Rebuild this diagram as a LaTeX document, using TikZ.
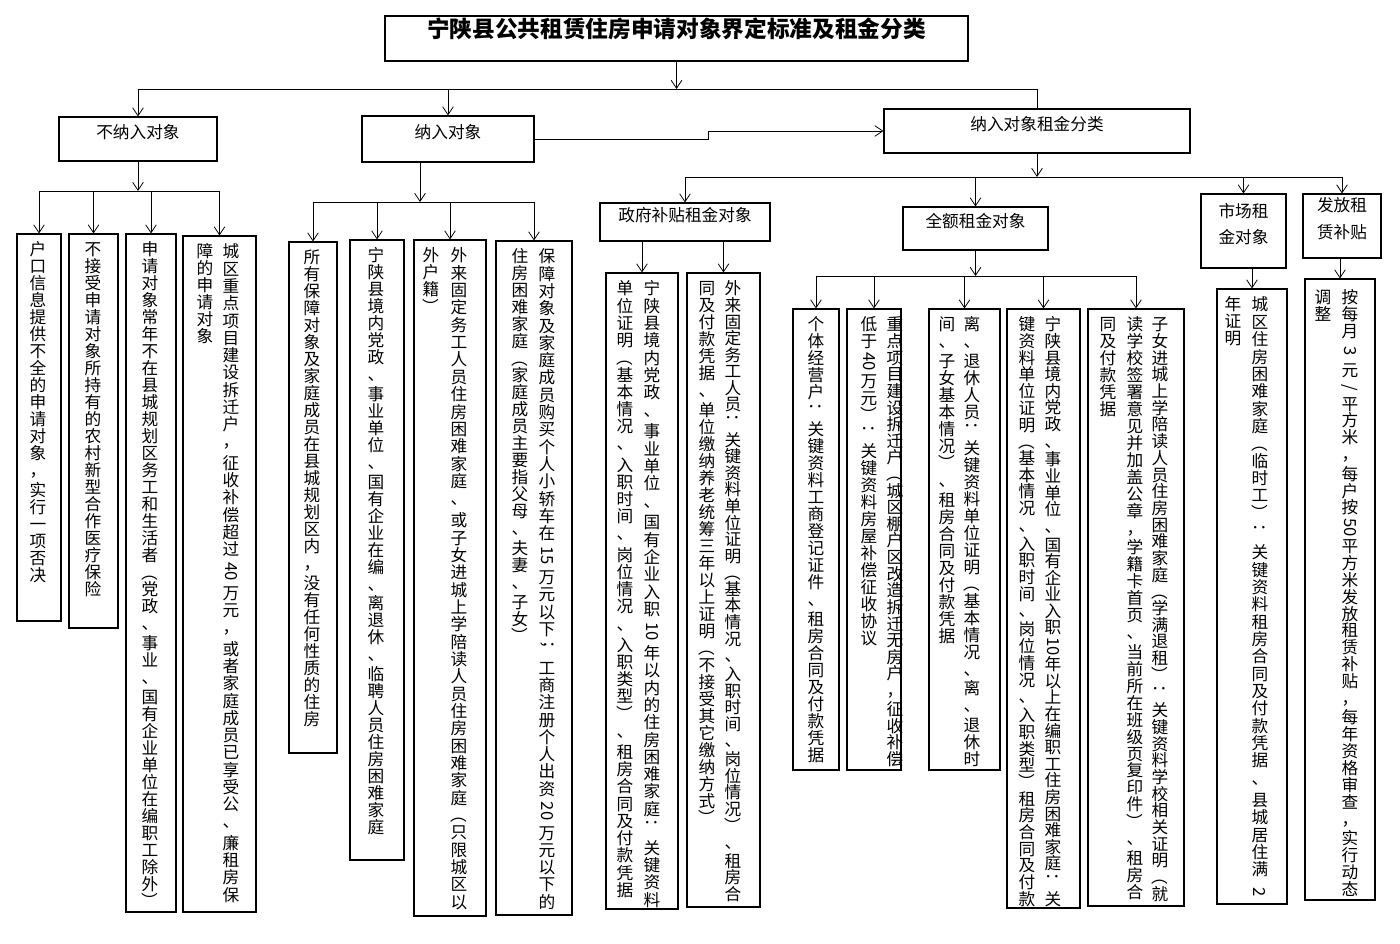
\documentclass[tikz,border=0pt]{standalone}
\usepackage{fontspec}
\setmainfont{Noto Sans CJK SC}
\usepackage{graphicx}
\usetikzlibrary{arrows.meta,fit,calc}

\newcommand\rt[1]{\rotatebox[origin=c]{-90}{#1}}
\newcommand\lp{\rt{（}}
\newcommand\rp{\rt{）}}
\makeatletter
\newskip\vcgapskip \vcgapskip=2pt plus 1fil minus 2pt
\newskip\vcsmallskip \vcsmallskip=0pt plus .15fil minus 1pt
\newif\ifvcgap
\def\vp@a{，}\def\vp@b{、}\def\vp@c{；}\def\vp@d{\rt{：}}\def\vp@e{\rt{；}}\def\vp@bar{|}
\def\vc@strut{\vrule width0pt height .88em depth .12em\relax}
\def\vc@body{%
  \ifx\vc@x\vp@bar \vskip\vcgapskip \else
    \hbox to 1em{\hss\vc@strut\vc@x\hss}%
    \vcgapfalse
    \ifx\vc@x\vp@a\vcgaptrue\fi
    \ifx\vc@x\vp@b\vcgaptrue\fi
    \ifx\vc@x\vp@c\vcgaptrue\fi
    \ifx\vc@x\vp@d\vcgaptrue\fi
    \ifx\vc@x\vp@e\vcgaptrue\fi
    \ifvcgap\vskip\vcgapskip\else\vskip\vcsmallskip\fi
  \fi}
\def\vc@setup{\fontsize{12.5pt}{12.75pt}\selectfont\baselineskip=12.75pt\lineskiplimit=-100pt\relax}
\newcommand\vcolN[1]{\vbox{\vc@setup\@tfor\vc@x:=#1\do{\vc@body}\unskip}}
\newcommand\vcolF[2]{\vbox to \dimexpr 0.75pt*#1\relax{\vc@setup\@tfor\vc@x:=#2\do{\vc@body}\unskip}}
\makeatother

\begin{document}
\begin{tikzpicture}[x=0.75pt,y=-0.75pt,
  bx/.style={draw=black, line width=0.8pt, inner sep=0pt, font=\fontsize{12.5pt}{15pt}\selectfont},
  col/.style={inner sep=0pt, anchor=north},
  ln/.style={line width=0.6pt},
  arr/.style={line width=0.6pt, -{Straight Barb[length=6pt,width=8pt]}}]
\useasboundingbox (0,0) rectangle (1400,944);

% title and level 1
\node[bx, fit={(385,16)(968,61)}] (t) {\fontsize{17pt}{20pt}\selectfont\bfseries 宁陕县公共租赁住房申请对象界定标准及租金分类};
\node[bx, fit={(59,117)(217,161)}] (n0) {不纳入对象};
\node[bx, fit={(362,116)(534,162)}] (n1) {纳入对象};
\node[bx, fit={(884,109)(1190,153)}] (n2) {纳入对象租金分类};

% level 2 boxes under rent classification
\node[bx, fit={(600,203)(770,241)}] (g) {政府补贴租金对象};
\node[bx, fit={(903,207)(1048,250)}] (f) {全额租金对象};
\node[bx, fit={(1201,194)(1286,268)}, align=center, font=\fontsize{12.5pt}{20pt}\selectfont] (m) {市场租\\金对象};
\node[bx, fit={(1303,194)(1381,258)}, align=center, font=\fontsize{12.5pt}{20pt}\selectfont] (s) {发放租\\赁补贴};

% leaf boxes
\node[bx, fit={(17,234)(61,621)}] (a1) {};
\node[bx, fit={(69,234)(118,628)}] (a2) {};
\node[bx, fit={(126,234)(176,912)}] (a3) {};
\node[bx, fit={(183,236)(256,912)}] (a4) {};
\node[bx, fit={(289,242)(337,753)}] (b1) {};
\node[bx, fit={(350,240)(404,860)}] (b2) {};
\node[bx, fit={(414,240)(486,916)}] (b3) {};
\node[bx, fit={(496,241)(572,915)}] (b4) {};
\node[bx, fit={(606,273)(678,909)}] (g1) {};
\node[bx, fit={(687,273)(760,907)}] (g2) {};
\node[bx, fit={(793,309)(839,770)}] (f1) {};
\node[bx, fit={(847,309)(901,770)}] (f2) {};
\node[bx, fit={(929,309)(1000,770)}] (f3) {};
\node[bx, fit={(1007,309)(1080,908)}] (f4) {};
\node[bx, fit={(1088,309)(1184,906)}] (f5) {};
\node[bx, fit={(1217,289)(1287,904)}] (m1) {};
\node[bx, fit={(1305,279)(1375,900)}] (s1) {};

% vertical texts
\node[col] (a1c) at (38,241) {\vcolN{户口信息提供不全的申请对象，实行一项否决}};
\node[col] (a2c) at (93,241) {\vcolN{不接受申请对象所持有的农村新型合作医疗保险}};
\node[col] (a3c) at (150,241) {\vcolN{申请对象常年不在县城规划区务工和生活者{\lp}党政、事业、国有企业单位在编职工除外{\rp}}};
\node[col] (a4r) at (231,243) {\vcolF{658}{城区重点项目建设拆迁户，征收补偿超过|{\rt{40}}|万元，或者家庭成员已享受公、廉租房保}};
\node[col] (a4l) at (205,243) {\vcolN{障的申请对象}};

\node[col] (b1c) at (312,249) {\vcolN{所有保障对象及家庭成员在县城规划区内，没有任何性质的住房}};
\node[col] (b2c) at (376,247) {\vcolN{宁陕县境内党政、事业单位、国有企业在编、离退休、临聘人员住房困难家庭}};
\node[col] (b3r) at (459,247) {\vcolF{661}{外来固定务工人员住房困难家庭、或子女进城上学陪读人员住房困难家庭{\lp}只限城区以}};
\node[col] (b3l) at (431,247) {\vcolN{外户籍{\rp}}};
\node[col] (b4r) at (547,248) {\vcolF{660}{保障对象及家庭成员购买个人小轿车在|{\rt{15}}|万元以下{\rt{；}}工商注册个人出资|{\rt{20}}|万元以下的}};
\node[col] (b4l) at (520,248) {\vcolN{住房困难家庭{\lp}家庭成员主要指父母、夫妻、子女{\rp}}};

\node[col] (g1r) at (652,280) {\vcolF{626}{宁陕县境内党政、事业单位、国有企业入职|{\rt{10}}|年以内的住房困难家庭{\rt{：}}关键资料}};
\node[col] (g1l) at (625,280) {\vcolF{616}{单位证明{\lp}基本情况、入职时间、岗位情况、入职类型{\rp}、租房合同及付款凭据}};
\node[col] (g2r) at (733,280) {\vcolF{620}{外来固定务工人员{\rt{：}}关键资料单位证明{\lp}基本情况、入职时间、岗位情况{\rp}、租房合}};
\node[col] (g2l) at (707,280) {\vcolN{同及付款凭据、单位缴纳养老统筹三年以上证明{\lp}不接受其它缴纳方式{\rp}}};

\node[col] (f1c) at (816,316) {\vcolN{个体经营户{\rt{：}}关键资料工商登记证件、租房合同及付款凭据}};
\node[col] (f2r) at (895,316) {\vcolF{449}{重点项目建设拆迁户{\lp}城区棚户区改造拆迁无房户，征收补偿}};
\node[col] (f2l) at (869,316) {\vcolN{低于|{\rt{40}}|万元{\rp}{\rt{：}}关键资料房屋补偿征收协议}};
\node[col] (f3r) at (972,316) {\vcolF{449}{离、退休人员{\rt{：}}关键资料单位证明{\lp}基本情况、离、退休时}};
\node[col] (f3l) at (947,316) {\vcolN{间、子女基本情况{\rp}、租房合同及付款凭据}};
\node[col] (f4r) at (1053,316) {\vcolF{589}{宁陕县境内党政、事业单位、国有企业入职|{\rt{10}}|年以上在编职工住房困难家庭{\rt{：}}关}};
\node[col] (f4l) at (1027,316) {\vcolF{589}{键资料单位证明{\lp}基本情况、入职时间、岗位情况、入职类型{\rp}租房合同及付款}};
\node[col] (f5r) at (1160,316) {\vcolF{584}{子女进城上学陪读人员住房困难家庭{\lp}学满退租{\rp}{\rt{：}}关键资料学校相关证明{\lp}就}};
\node[col] (f5m) at (1135,316) {\vcolF{582}{读学校签署意见并加盖公章，学籍卡首页、当前所在班级页复印件{\rp}、租房合}};
\node[col] (f5l) at (1108,316) {\vcolN{同及付款凭据}};

\node[col] (m1r) at (1260,296) {\vcolF{602}{城区住房困难家庭{\lp}临时工{\rp}{\rt{：}}关键资料租房合同及付款凭据、县城居住满|{\rt{2}}}};
\node[col] (m1l) at (1233,296) {\vcolN{年证明}};
\node[col] (s1r) at (1350,289) {\vcolF{606}{按每月|{\rt{3}}|元{\rt{/}}平方米，每户按|{\rt{50}}|平方米发放租赁补贴，每年资格审查，实行动态}};
\node[col] (s1l) at (1323,289) {\vcolN{调整}};

% bus levels
\coordinate (y0) at (0,89);
\coordinate (y1) at (0,191);
\coordinate (y2) at (0,202);
\coordinate (y3) at (0,177);
\coordinate (y4) at (0,276);
\coordinate (x420) at (420,0);

% title to level 1
\draw[arr] (t.south) -- (t.south |- y0);
\draw[ln] (n0.north |- y0) -- (n2.north |- y0);
\draw[arr] (n0.north |- y0) -- (n0.north);
\draw[arr] (n1.north |- y0) -- (n1.north);
\draw[ln] (n2.north |- y0) -- (n2.north);
\draw[arr] (n1.east) -- ++(174,0) |- (n2.west);

% 不纳入对象
\draw[arr] (n0.south) -- (n0.south |- y1);
\draw[ln] (a1.north |- y1) -- (a4.north |- y1);
\foreach \b in {a1,a2,a3,a4} \draw[arr] (\b.north |- y1) -- (\b.north);

% 纳入对象
\draw[arr] (n1.south -| x420) -- (x420 |- y2);
\draw[ln] (b1.north |- y2) -- (b4.north |- y2);
\foreach \b in {b1,b2,b3,b4} \draw[arr] (\b.north |- y2) -- (\b.north);

% 租金分类
\draw[arr] (n2.south) -- (n2.south |- y3);
\draw[ln] (g.north |- y3) -- (s.north |- y3);
\foreach \b in {g,f,m,s} \draw[arr] (\b.north |- y3) -- (\b.north);

\draw[arr] (g1.north |- g.south) -- (g1.north);
\draw[arr] (g2.north |- g.south) -- (g2.north);

\draw[arr] (f.south) -- (f.south |- y4);
\draw[ln] (f1.north |- y4) -- (f5.north |- y4);
\foreach \b in {f1,f2,f3,f4,f5} \draw[arr] (\b.north |- y4) -- (\b.north);

\draw[arr] (m1.north |- m.south) -- (m1.north);
\draw[arr] (s1.north |- s.south) -- (s1.north);
\end{tikzpicture}
\end{document}
